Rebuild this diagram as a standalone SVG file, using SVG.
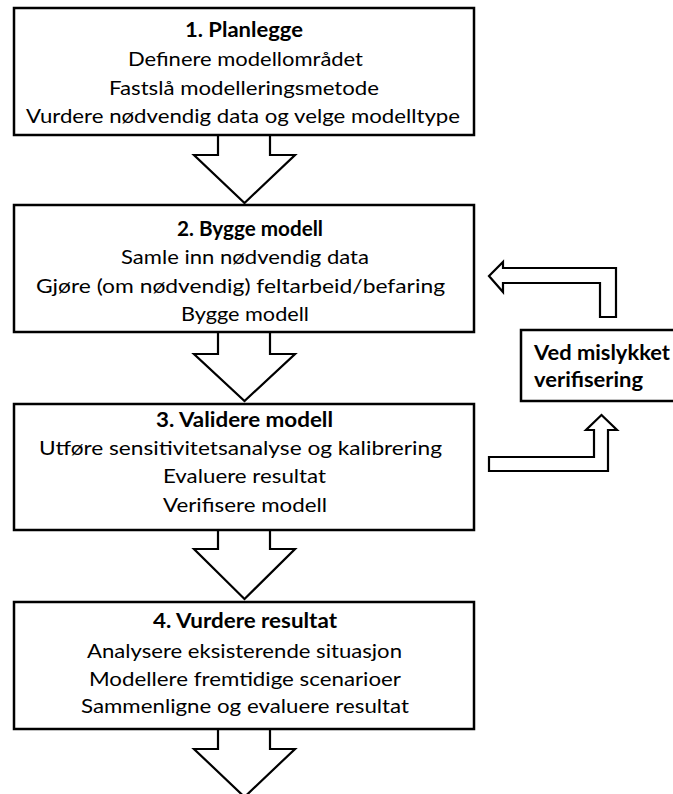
<svg xmlns="http://www.w3.org/2000/svg" width="673" height="794" viewBox="0 0 673 794">
<style>
.box{fill:#fff;stroke:#000;stroke-width:2.5}
.arr{fill:#fff;stroke:#000;stroke-width:2.2;stroke-linejoin:miter}
text{font-family:Lato,"Open Sans","Liberation Sans",sans-serif;font-size:20px;fill:#000}
.c{text-anchor:middle}
.b{font-weight:bold}
</style>
<rect width="673" height="794" fill="#fff"/>
<g id="connectors">
<path class="arr" d="M218,135 V155 H194 L244.5,203 L295,155 H270 V135"/>
<path class="arr" d="M218,332 V354 H194 L244.5,401 L295,354 H270 V332"/>
<path class="arr" d="M218,530 V549 H194 L244.5,599 L295,549 H270 V530"/>
<path class="arr" d="M218,729 V749 H194 L244.5,797 L295,749 H270 V729"/>
<polygon class="arr" points="489,276 503,262 503,268 616,268 616,317 600,317 600,283 503,283 503,292"/>
<polygon class="arr" points="489,457 594,457 594,430 586,430 601.5,415 617,430 608,430 608,471 489,471"/>
</g>
<g id="node1">
<rect class="box" x="14" y="8" width="460" height="127"/>
<text class="c b" x="244" y="37" textLength="118" lengthAdjust="spacingAndGlyphs">1. Planlegge</text>
<text class="c" x="245.5" y="66" textLength="235" lengthAdjust="spacingAndGlyphs">Definere modellområdet</text>
<text class="c" x="244" y="95" textLength="270" lengthAdjust="spacingAndGlyphs">Fastslå modelleringsmetode</text>
<text class="c" x="243" y="123" textLength="434" lengthAdjust="spacingAndGlyphs">Vurdere nødvendig data og velge modelltype</text>
</g>
<g id="node2">
<rect class="box" x="14" y="205" width="460" height="127"/>
<text class="c b" x="250" y="236" textLength="146" lengthAdjust="spacingAndGlyphs">2. Bygge modell</text>
<text class="c" x="245" y="264" textLength="248" lengthAdjust="spacingAndGlyphs">Samle inn nødvendig data</text>
<text class="c" x="240.5" y="293" textLength="409" lengthAdjust="spacingAndGlyphs">Gjøre (om nødvendig) feltarbeid/befaring</text>
<text class="c" x="245" y="321" textLength="128" lengthAdjust="spacingAndGlyphs">Bygge modell</text>
</g>
<g id="node3">
<rect class="box" x="14" y="404" width="460" height="126"/>
<text class="c b" x="244.5" y="427" textLength="177" lengthAdjust="spacingAndGlyphs">3. Validere modell</text>
<text class="c" x="240.5" y="455" textLength="403" lengthAdjust="spacingAndGlyphs">Utføre sensitivitetsanalyse og kalibrering</text>
<text class="c" x="244.5" y="483" textLength="163" lengthAdjust="spacingAndGlyphs">Evaluere resultat</text>
<text class="c" x="245" y="512" textLength="164" lengthAdjust="spacingAndGlyphs">Verifisere modell</text>
</g>
<g id="node4">
<rect class="box" x="14" y="602" width="460" height="127"/>
<text class="c b" x="245" y="628" textLength="184" lengthAdjust="spacingAndGlyphs">4. Vurdere resultat</text>
<text class="c" x="244.5" y="658" textLength="315" lengthAdjust="spacingAndGlyphs">Analysere eksisterende situasjon</text>
<text class="c" x="245" y="686" textLength="312" lengthAdjust="spacingAndGlyphs">Modellere fremtidige scenarioer</text>
<text class="c" x="245" y="713" textLength="328" lengthAdjust="spacingAndGlyphs">Sammenligne og evaluere resultat</text>
</g>
<g id="node5">
<rect class="box" x="521" y="330" width="170" height="71"/>
<text class="b" x="534" y="360" textLength="136" lengthAdjust="spacingAndGlyphs">Ved mislykket</text>
<text class="b" x="534" y="387" textLength="109" lengthAdjust="spacingAndGlyphs">verifisering</text>
</g>
</svg>
